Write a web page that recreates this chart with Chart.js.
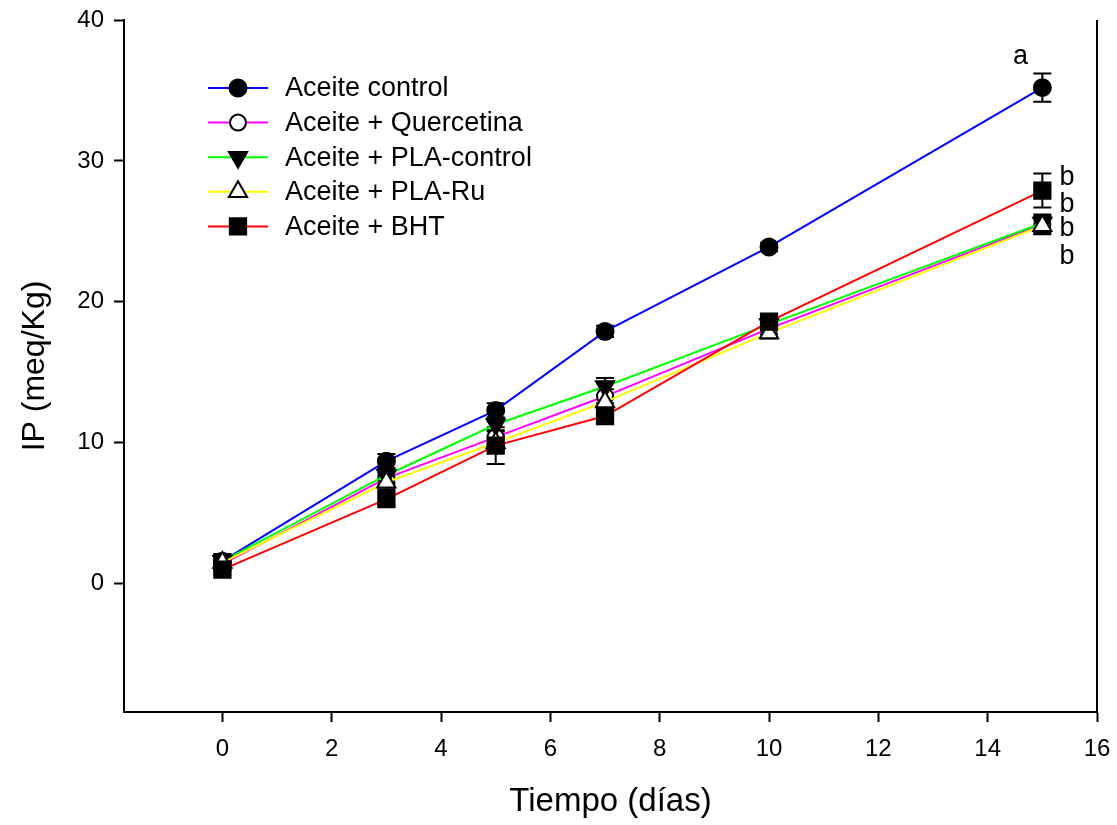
<!DOCTYPE html>
<html lang="es">
<head>
<meta charset="utf-8">
<style>
    html, body { margin: 0; padding: 0; background: #fff; overflow: hidden; }
    canvas { display: block; }
</style>
</head>
<body>
    <canvas id="myChart" width="1117" height="825"></canvas>

    <script src="https://cdn.jsdelivr.net/npm/chart.js@4.4.0/dist/chart.umd.min.js"></script>

    <script>
        // days of storage
        var days = [0, 3, 5, 7, 10, 15];

        // IP values (meq/Kg) and error bars
        var controlIP = [1.6, 8.7, 12.3, 17.9, 23.9, 35.2];
        var controlErr = [0.5, 0.5, 0.5, 0.4, 0.3, 1.0];
        var quercetinaIP = [1.4, 7.5, 10.4, 13.3, 18.1, 25.5];
        var quercetinaErr = [0.5, 0.4, 0.5, 0.5, 0.4, 0.6];
        var plaControlIP = [1.6, 7.7, 11.3, 14.0, 18.4, 25.6];
        var plaControlErr = [0.5, 0.5, 0.5, 0.6, 0.4, 0.6];
        var plaRuIP = [1.5, 7.2, 10.0, 12.9, 17.8, 25.4];
        var plaRuErr = [0.5, 0.5, 0.5, 0.5, 0.4, 0.6];
        var bhtIP = [1.0, 6.0, 9.8, 11.9, 18.6, 27.9];
        var bhtErr = [0.4, 0.4, 1.3, 0.4, 0.4, 1.2];

        var xTicks = [0, 2, 4, 6, 8, 10, 12, 14, 16];
        var yTicks = [0, 10, 20, 30, 40];

        // significance letters: [text, x, y]
        var letters = [
            ['a', 14.6, 37.4],
            ['b', 15.45, 28.8],
            ['b', 15.45, 26.9],
            ['b', 15.45, 25.2],
            ['b', 15.45, 23.2]
        ];

        var FONT = "'Liberation Sans', Arial, sans-serif";

        function pts(ys) {
            return days.map(function (d, i) { return { x: d, y: ys[i] }; });
        }

        var datasets = [
            { label: 'Aceite control', data: pts(controlIP), err: controlErr, borderColor: '#0000ff',
              pointStyle: 'circle', pointRadius: 8.5, pointBackgroundColor: '#000', pointRotation: 0 },
            { label: 'Aceite + Quercetina', data: pts(quercetinaIP), err: quercetinaErr, borderColor: '#ff00ff',
              pointStyle: 'circle', pointRadius: 8, pointBackgroundColor: '#fff', pointRotation: 0 },
            { label: 'Aceite + PLA-control', data: pts(plaControlIP), err: plaControlErr, borderColor: '#00ff00',
              pointStyle: 'triangle', pointRadius: 10.5, pointBackgroundColor: '#000', pointRotation: 180 },
            { label: 'Aceite + PLA-Ru', data: pts(plaRuIP), err: plaRuErr, borderColor: '#ffff00',
              pointStyle: 'triangle', pointRadius: 10.5, pointBackgroundColor: '#fff', pointRotation: 0 },
            { label: 'Aceite + BHT', data: pts(bhtIP), err: bhtErr, borderColor: '#ff0000',
              pointStyle: 'rect', pointRadius: 11.5, pointBackgroundColor: '#000', pointRotation: 0 }
        ];
        datasets.forEach(function (ds, i) {
            ds.borderWidth = 2;
            ds.tension = 0;
            ds.fill = false;
            ds.pointBorderColor = '#000';
            ds.pointBorderWidth = 2;
            ds.pointHoverRadius = ds.pointRadius;
            ds.order = datasets.length - i; // later series drawn on top
        });

        var errorBars = {
            id: 'errorBars',
            beforeDatasetsDraw: function (chart) {
                var ctx = chart.ctx, xs = chart.scales.x, ys = chart.scales.y;
                ctx.save();
                ctx.strokeStyle = '#000';
                ctx.lineWidth = 2;
                chart.data.datasets.forEach(function (ds) {
                    ds.data.forEach(function (p, j) {
                        var x = xs.getPixelForValue(p.x);
                        var t = ys.getPixelForValue(p.y + ds.err[j]);
                        var b = ys.getPixelForValue(p.y - ds.err[j]);
                        ctx.beginPath();
                        ctx.moveTo(x, t); ctx.lineTo(x, b);
                        ctx.moveTo(x - 9, t); ctx.lineTo(x + 9, t);
                        ctx.moveTo(x - 9, b); ctx.lineTo(x + 9, b);
                        ctx.stroke();
                    });
                });
                ctx.restore();
            }
        };

        var extras = {
            id: 'extras',
            afterDraw: function (chart) {
                var ctx = chart.ctx, area = chart.chartArea;
                var xs = chart.scales.x, ys = chart.scales.y;
                ctx.save();
                // right frame line
                ctx.strokeStyle = '#000';
                ctx.lineWidth = 2;
                ctx.beginPath();
                ctx.moveTo(area.right, area.top);
                ctx.lineTo(area.right, area.bottom);
                ctx.stroke();

                // legend inside plot
                ctx.font = '27px ' + FONT;
                ctx.textBaseline = 'middle';
                ctx.textAlign = 'left';
                chart.data.datasets.forEach(function (ds, i) {
                    var y = area.top + 68 + i * 34.6;
                    ctx.strokeStyle = ds.borderColor;
                    ctx.lineWidth = 2;
                    ctx.beginPath();
                    ctx.moveTo(208, y); ctx.lineTo(268, y);
                    ctx.stroke();
                    ctx.fillStyle = ds.pointBackgroundColor;
                    ctx.strokeStyle = '#000';
                    ctx.lineWidth = 2;
                    Chart.helpers.drawPoint(ctx, {
                        pointStyle: ds.pointStyle,
                        rotation: ds.pointRotation,
                        radius: ds.pointRadius,
                        borderWidth: 2
                    }, 238, y);
                    ctx.fillStyle = '#000';
                    ctx.fillText(ds.label, 285, y + 1);
                });

                // significance letters
                ctx.textAlign = 'center';
                letters.forEach(function (l) {
                    ctx.fillText(l[0], xs.getPixelForValue(l[1]), ys.getPixelForValue(l[2]));
                });
                ctx.restore();
            }
        };

        var ctx = document.getElementById('myChart').getContext('2d');
        var chart = new Chart(ctx, {
            type: 'line',
            data: { datasets: datasets },
            plugins: [errorBars, extras],
            options: {
                responsive: false,
                animation: false,
                layout: { padding: { top: 20, right: 20, bottom: 0, left: 0 } },
                plugins: { legend: { display: false }, tooltip: { enabled: false } },
                scales: {
                    x: {
                        type: 'linear',
                        min: -1.8,
                        max: 16,
                        afterBuildTicks: function (axis) {
                            axis.ticks = xTicks.map(function (v) { return { value: v }; });
                        },
                        afterFit: function (axis) {
                            axis.height = 113;
                            axis.paddingLeft = 0;
                            axis.paddingRight = 0;
                        },
                        grid: { drawOnChartArea: false, tickLength: 10, tickColor: '#000', tickWidth: 2 },
                        border: { display: true, color: '#000', width: 2 },
                        ticks: { color: '#000', font: { family: FONT, size: 24 }, padding: 13, maxRotation: 0, autoSkip: false },
                        title: { display: true, text: 'Tiempo (días)', color: '#000',
                                 font: { family: FONT, size: 33 }, padding: { top: 0, bottom: 3 } }
                    },
                    y: {
                        min: -9.1,
                        max: 40,
                        afterBuildTicks: function (axis) {
                            axis.ticks = yTicks.map(function (v) { return { value: v }; });
                        },
                        afterFit: function (axis) {
                            axis.width = 124;
                            axis.paddingTop = 0;
                            axis.paddingBottom = 0;
                        },
                        grid: { drawOnChartArea: false, tickLength: 10, tickColor: '#000', tickWidth: 2 },
                        border: { display: true, color: '#000', width: 2 },
                        ticks: { color: '#000', font: { family: FONT, size: 24 }, padding: 10 },
                        title: { display: true, text: 'IP (meq/Kg)', color: '#000',
                                 font: { family: FONT, size: 32 }, padding: { top: 16, bottom: 0 } }
                    }
                }
            }
        });
    </script>
</body>
</html>
